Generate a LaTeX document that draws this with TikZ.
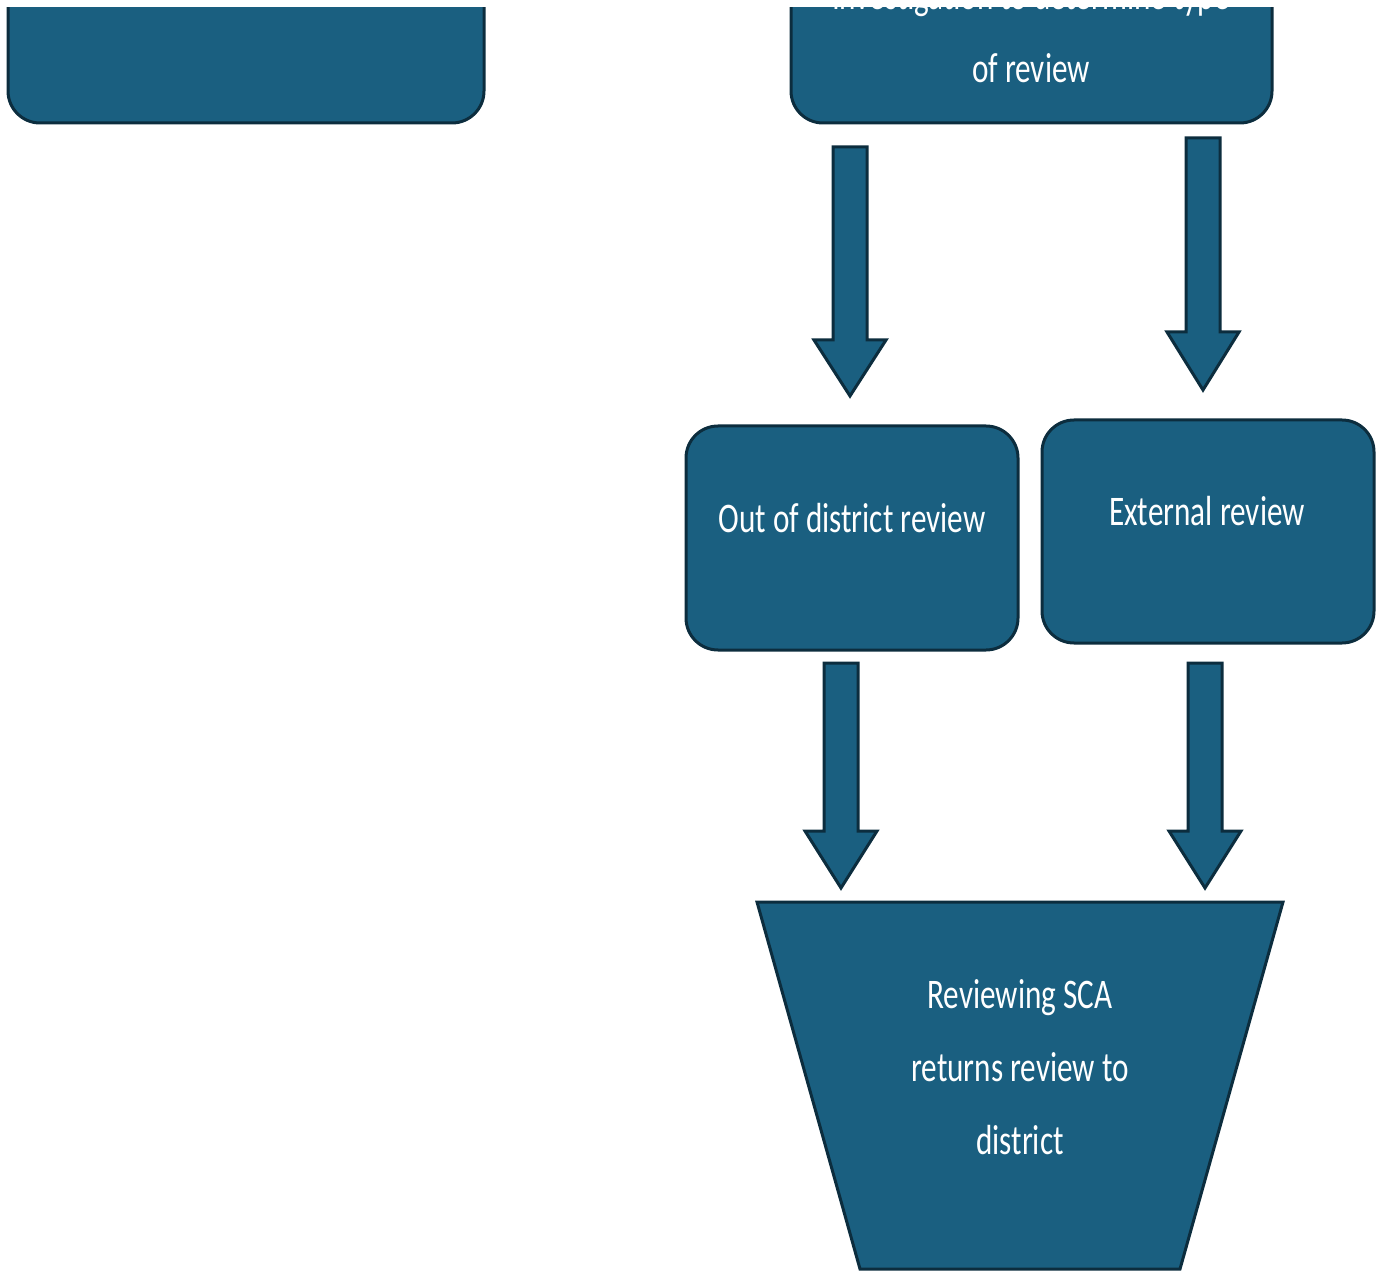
\documentclass[tikz,border=0pt]{standalone}
\usepackage{fontspec}
\usepackage{graphicx}
\usepackage{tikz}
\setmainfont{Carlito}
\definecolor{boxfill}{RGB}{26,95,128}
\definecolor{boxedge}{RGB}{12,45,62}
\newcommand{\tall}[1]{\scalebox{1}[1.35]{#1}}
\newcommand{\fatarrow}[4]{%
	\draw[arrowbody] (#1-17,#2) -- (#1+17,#2) -- (#1+17,#3) -- (#1+36,#3)
		-- (#1,#4) -- (#1-36,#3) -- (#1-17,#3) -- cycle;}
\tikzset{
	boxbody/.style = {fill = boxfill, draw = boxedge, line width = 1.5pt, rounded corners = 16pt},
	arrowbody/.style = {fill = boxfill, draw = boxedge, line width = 1.5pt, line join = miter},
	boxtext/.style = {text = white, align = center, font = \fontsize{15.6}{36.5}\selectfont}
}

\begin{document}
\begin{tikzpicture}[x = 0.5pt, y = -0.5pt]
	\useasboundingbox (0,0) rectangle (1386,1272);
	\begin{scope}
	\clip (0,8) rectangle (1386,1272);
%% boxes cut off at the top edge
	\draw[boxbody] (8,-200) rectangle (484,123);
	\draw[boxbody] (791,-200) rectangle (1272,123);
	\node[boxtext] (typetext) at (1031,32) {\tall{Investigation to determine type}\\\tall{of review}};
%% block arrows down to the two kinds of review
	\fatarrow{850}{147}{340}{396}
	\fatarrow{1203}{138}{332}{390}
	\draw[boxbody] (686,426) rectangle (1018,650);
	\node[boxtext] (outtext) at (852,518) {\tall{Out of district review}};
	\draw[boxbody] (1042,420) rectangle (1374,643);
	\node[boxtext] (exttext) at (1207,511) {\tall{External review}};
	\fatarrow{841}{663}{831}{888}
	\fatarrow{1205}{663}{831}{888}
%% funnel at the bottom
	\draw[arrowbody] (757,902) -- (1283,902) -- (1180,1269) -- (860,1269) -- cycle;
	\node[boxtext] (scatext) at (1020,1067) {\tall{Reviewing SCA}\\\tall{returns review to}\\\tall{district}};
	\end{scope}
\end{tikzpicture}
\end{document}
